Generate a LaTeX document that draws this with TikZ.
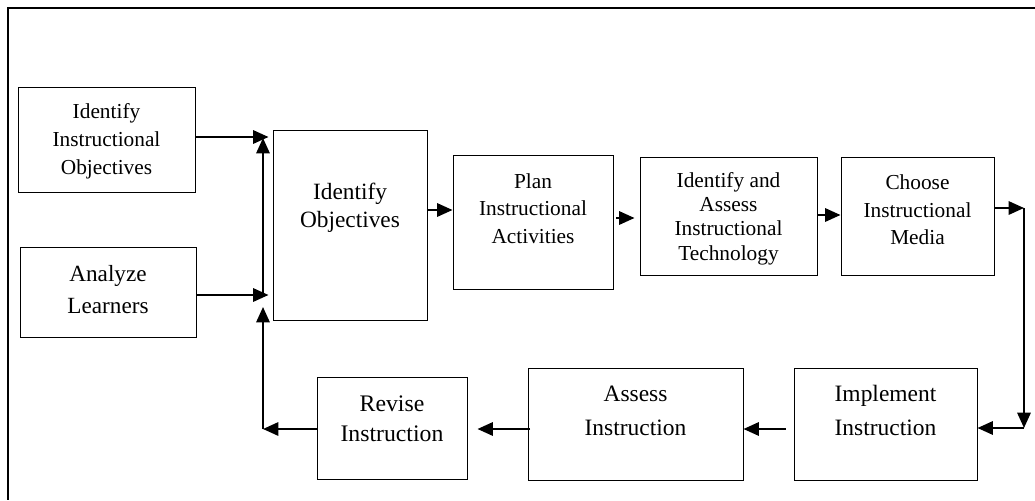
\documentclass[tikz,border=0pt]{standalone}
\usepackage{fontspec}
\setmainfont{Liberation Serif}
\usetikzlibrary{arrows.meta}
\begin{document}
\begin{tikzpicture}[x=0.75pt,y=-0.75pt,
  box/.style={draw, line width=0.75pt, inner sep=0pt},
  lbl/.style={align=center, inner sep=0pt},
  arr/.style={line width=1.5pt, -{Triangle[length=11.5pt,width=10pt]}},
  frame/.style={line width=1.5pt}
]
\useasboundingbox (0,0) rectangle (1035,500);

% outer frame (only the top and left sides fall inside the page)
\coordinate (fr) at (1035,8);
\coordinate (fc) at (8,8);
\coordinate (fb) at (8,500);
\draw[frame] (fr) -- (fc) -- (fb);

% boxes
\node[box, minimum width=132.75pt, minimum height=78.75pt] (A) at (106.5,139.5) {};
\node[box, minimum width=132pt,    minimum height=67.5pt]  (B) at (108,292) {};
\node[box, minimum width=115.5pt,  minimum height=142.5pt] (C) at (350,225) {};
\node[box, minimum width=120pt,    minimum height=100.5pt] (D) at (533,222) {};
\node[box, minimum width=132.75pt, minimum height=88.5pt]  (E) at (728.5,216) {};
\node[box, minimum width=114.75pt, minimum height=88.5pt]  (F) at (917.5,216) {};
\node[box, minimum width=137.25pt, minimum height=84pt]    (G) at (885.5,424) {};
\node[box, minimum width=161.25pt, minimum height=84pt]    (H) at (635.5,424) {};
\node[box, minimum width=112.5pt,  minimum height=76.5pt]  (R) at (392,428) {};

% box texts
\node[lbl, font=\fontsize{16}{21}\selectfont] (tA) at (106.5,141.5)
  {Identify\\Instructional\\Objectives};
\node[lbl, font=\fontsize{17.4}{24}\selectfont] (tB) at (108,290)
  {Analyze\\Learners};
\node[lbl, font=\fontsize{17.5}{21}\selectfont] (tC) at (350,207.5)
  {Identify\\Objectives};
\node[lbl, font=\fontsize{16}{20.6}\selectfont] (tD) at (533,208.5)
  {Plan\\Instructional\\Activities};
\node[lbl, font=\fontsize{16}{18.25}\selectfont] (tE) at (728.5,218.5)
  {Identify and\\Assess\\Instructional\\Technology};
\node[lbl, font=\fontsize{17.6}{25.5}\selectfont] (tG) at (885.5,410.5)
  {Implement\\Instruction};
\node[lbl, font=\fontsize{16}{20.6}\selectfont] (tF) at (917.5,210)
  {Choose\\Instructional\\Media};
\node[lbl, font=\fontsize{17.6}{25.5}\selectfont] (tH) at (635.5,410.5)
  {Assess\\Instruction};
\node[lbl, font=\fontsize{17.8}{22.5}\selectfont] (tR) at (392,419)
  {Revise\\Instruction};

% junction points
\coordinate (j1) at (268.5,137);
\coordinate (j2) at (268.5,295);
\coordinate (up1) at (263,138);
\coordinate (up1s) at (263,293);
\coordinate (up2) at (263,307);
\coordinate (cR) at (263,429);
\coordinate (k1) at (1024,208);
\coordinate (k2) at (1024,428);
\coordinate (yCD) at (0,210);
\coordinate (yDE) at (0,218);
\coordinate (yEF) at (0,215);
\coordinate (yBot) at (0,429);

% inputs into "Identify Objectives"
\draw[arr] (A.east |- j1) -- (j1);
\draw[arr] (B.east |- j2) -- (j2);
\draw[arr] (up1s) -- (up1);

% forward chain
\draw[arr] (C.east |- yCD) -- (D.west |- yCD);
\draw[arr, shorten <=2pt, shorten >=3.75pt] (D.east |- yDE) -- (E.west |- yDE);
\draw[arr] (E.east |- yEF) -- (F.west |- yEF);
\draw[arr] (F.east |- k1) -- (k1);
\draw[arr] (k1) -- (k2);
\draw[arr] (k2) -- (G.east |- k2);

% lower row, right to left
\draw[arr, shorten <=6pt] (G.west |- yBot) -- (H.east |- yBot);
\draw[arr, shorten <=-2pt, shorten >=7.5pt] (H.west |- yBot) -- (R.east |- yBot);
\draw[arr] (R.west |- cR) -- (cR);
\draw[arr] (cR) -- (up2);
\end{tikzpicture}
\end{document}
